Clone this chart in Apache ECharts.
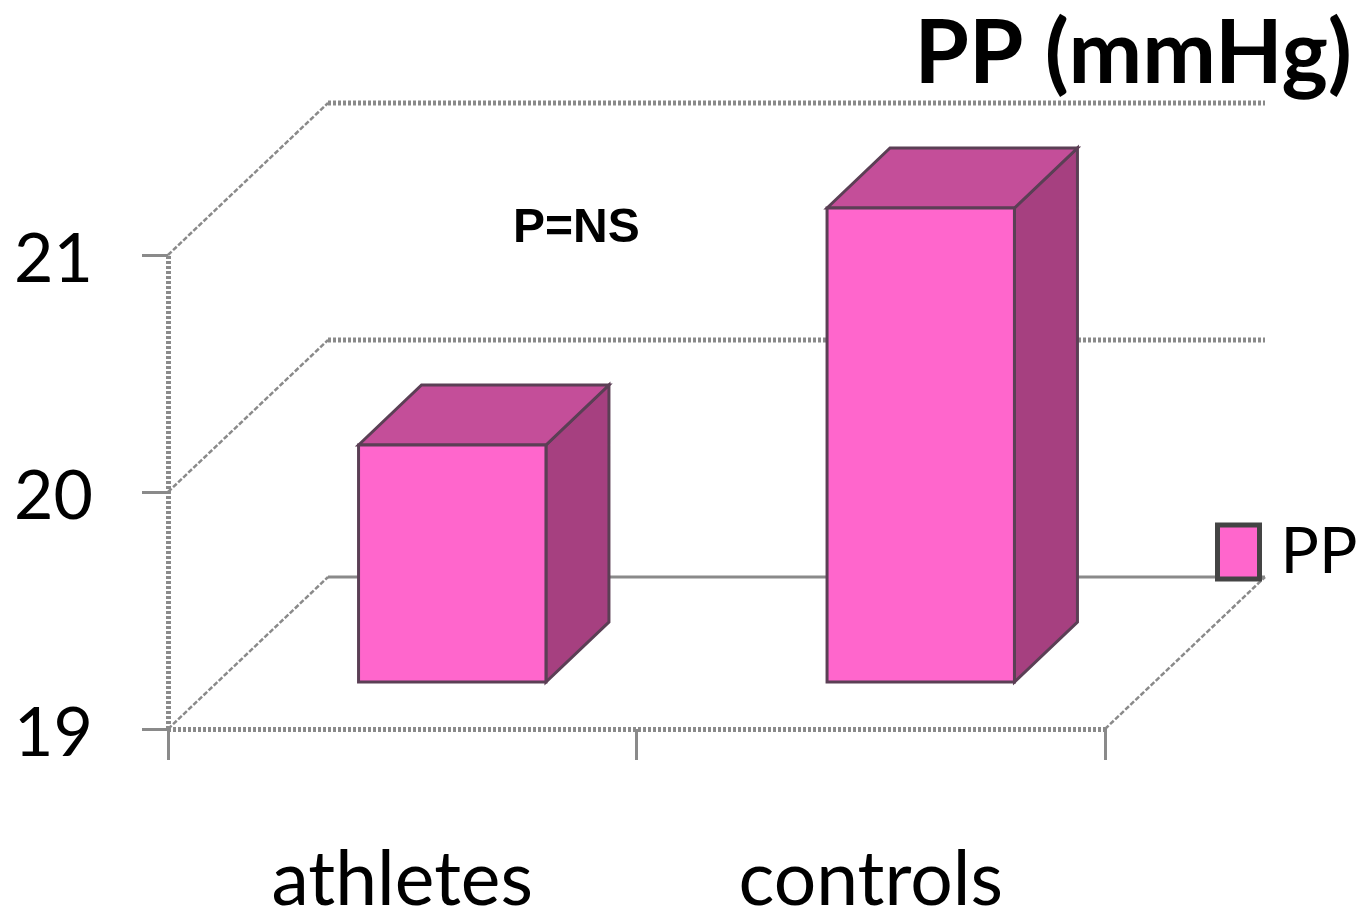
<!DOCTYPE html>
<html>
<head>
<meta charset="utf-8">
<style>html,body{margin:0;padding:0;background:#fff}#c{width:1364px;height:922px}</style>
<script src="https://cdn.jsdelivr.net/npm/echarts@6/dist/echarts.min.js"></script>
</head>
<body>
<div id="c"></div>
<script>
const categories = ['athletes', 'controls'];
const values = [20, 21];
const yTicks = [19, 20, 21];
const seriesName = 'PP';
const chartTitle = 'PP (mmHg)';
const note = 'P=NS';

const FONT = 'Lato,"Open Sans",sans-serif';
const GRAY = '#8a8a8a';
const WALL_DX = 160, WALL_DY = -152;
const BAR_SHIFT_X = 50, BAR_SHIFT_Y = -47, BAR_DX = 63, BAR_DY = -60;
const BAR_RATIO = 0.4;

function renderWalls(params, api) {
  const v = api.value(1);
  const band = api.size([1, 0])[0];
  const p0 = api.coord([0, v]);
  const pEnd = api.coord([categories.length - 1, v]);
  const x0 = p0[0] - band / 2, x1 = pEnd[0] + band / 2, y = p0[1];
  const floor = v === yTicks[0];
  const children = [
    { type: 'line', shape: { x1: x0, y1: y, x2: x0 + WALL_DX, y2: y + WALL_DY },
      style: { stroke: GRAY, lineWidth: 2.5, lineDash: [5, 2] } },
    { type: 'line', shape: { x1: x0 + WALL_DX, y1: y + WALL_DY, x2: x1 + WALL_DX, y2: y + WALL_DY },
      style: floor ? { stroke: GRAY, lineWidth: 3 } : { stroke: GRAY, lineWidth: 5, lineDash: [3, 2] } }
  ];
  if (floor) {
    children.push({ type: 'line', shape: { x1: x1, y1: y, x2: x1 + WALL_DX, y2: y + WALL_DY },
      style: { stroke: GRAY, lineWidth: 2.5, lineDash: [5, 2] } });
  }
  return { type: 'group', children };
}

function renderBar(params, api) {
  const idx = api.value(0);
  const top = api.coord([idx, api.value(1)]);
  const base = api.coord([idx, yTicks[0]]);
  const w = api.size([1, 0])[0] * BAR_RATIO;
  const l = top[0] + BAR_SHIFT_X - w / 2, r = l + w;
  const t = top[1] + BAR_SHIFT_Y, b = base[1] + BAR_SHIFT_Y;
  const edge = { stroke: '#5b3f55', lineWidth: 3, lineJoin: 'miter' };
  return { type: 'group', children: [
    { type: 'polygon', shape: { points: [[r, t], [r + BAR_DX, t + BAR_DY], [r + BAR_DX, b + BAR_DY], [r, b]] },
      style: Object.assign({ fill: '#a64080' }, edge) },
    { type: 'polygon', shape: { points: [[l, t], [l + BAR_DX, t + BAR_DY], [r + BAR_DX, t + BAR_DY], [r, t]] },
      style: Object.assign({ fill: '#c44e99' }, edge) },
    { type: 'rect', shape: { x: l, y: t, width: w, height: b - t },
      style: Object.assign({ fill: '#ff66cc' }, edge) }
  ] };
}

const chart = echarts.init(document.getElementById('c'), null, { renderer: 'canvas' });
chart.setOption({
  animation: false,
  backgroundColor: '#fff',
  title: [
    { text: chartTitle, right: 12, top: 11, textStyle: { fontFamily: FONT, fontWeight: 'bold', fontSize: 88, color: '#000' }, padding: 0 },
    { text: note, left: 513, top: 205, textStyle: { fontFamily: '"Liberation Sans",Arial,sans-serif', fontWeight: 'bold', fontSize: 48, color: '#000' }, padding: 0 }
  ],
  legend: {
    data: [seriesName], left: 1215, top: 520, padding: 0, itemGap: 0,
    itemWidth: 42, itemHeight: 54,
    icon: 'rect',
    itemStyle: { color: '#ff66cc', borderColor: '#444', borderWidth: 5 },
    textStyle: { fontFamily: FONT, fontSize: 64, color: '#000', padding: [4, 0, 0, 16] }
  },
  grid: { left: 168, top: 255, width: 937, height: 474, outerBoundsMode: 'none' },
  xAxis: {
    type: 'category', data: categories,
    axisLine: { onZero: false, lineStyle: { color: GRAY, width: 5, type: [3, 2], cap: 'butt' } },
    axisTick: { show: true, length: 31, lineStyle: { color: GRAY, width: 3 } },
    axisLabel: { margin: 114, fontFamily: FONT, fontSize: 75, color: '#000' }
  },
  yAxis: {
    type: 'value', min: 19, max: 21, interval: 1,
    splitLine: { show: false },
    axisLine: { show: true, lineStyle: { color: GRAY, width: 5, type: [3, 2], cap: 'butt' } },
    axisTick: { show: true, length: 26, lineStyle: { color: GRAY, width: 3 } },
    axisLabel: { margin: 75, fontFamily: FONT, fontSize: 68, color: '#000', verticalAlign: 'top', lineHeight: 10 }
  },
  series: [
    { type: 'custom', name: 'walls', z: 1, renderItem: renderWalls, silent: true,
      encode: { x: 0, y: 1 }, data: yTicks.map(v => [0, v]) },
    { type: 'custom', name: seriesName, z: 3, renderItem: renderBar, silent: true,
      itemStyle: { color: '#ff66cc' },
      encode: { x: 0, y: 1 }, data: values.map((v, i) => [i, v]) }
  ]
});
</script>
</body>
</html>
